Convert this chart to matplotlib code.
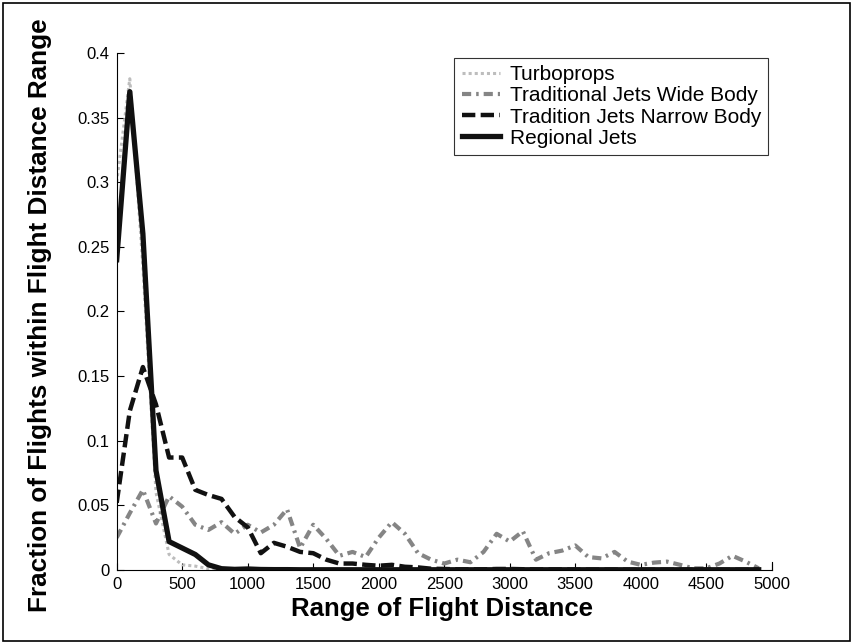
import numpy as np
import matplotlib
matplotlib.use('Agg')
import matplotlib.pyplot as plt
from matplotlib.patches import Rectangle

# flight distance bins (miles), one every 100
distance = np.arange(0, 5000, 100)

turboprops = [0.30, 0.38, 0.235, 0.06, 0.012, 0.004, 0.003, 0.001, 0.0003, 0.0002,
              0.0002, 0.0001, 0.0001, 0.0001, 0.0001, 0, 0, 0, 0, 0,
              0, 0, 0, 0, 0, 0, 0, 0, 0, 0,
              0, 0, 0, 0, 0, 0, 0, 0, 0, 0,
              0, 0, 0, 0, 0, 0, 0, 0, 0, 0]

wide_body = [0.025, 0.044, 0.062, 0.036, 0.057, 0.049, 0.035, 0.031, 0.037, 0.028,
             0.035, 0.029, 0.035, 0.047, 0.017, 0.035, 0.024, 0.011, 0.014, 0.010,
             0.025, 0.037, 0.028, 0.013, 0.008, 0.005, 0.008, 0.006, 0.014, 0.028,
             0.022, 0.030, 0.008, 0.013, 0.015, 0.019, 0.010, 0.009, 0.014, 0.0065,
             0.004, 0.0057, 0.0065, 0.004, 0.0013, 0.0013, 0.005, 0.011, 0.0065, 0.0013]

narrow_body = [0.052, 0.123, 0.157, 0.128, 0.087, 0.087, 0.062, 0.058, 0.055, 0.041,
               0.033, 0.013, 0.021, 0.018, 0.014, 0.013, 0.008, 0.005, 0.005, 0.004,
               0.0033, 0.004, 0.0025, 0.002, 0.001, 0.0008, 0.0005, 0.0005, 0.0005, 0.0008,
               0.0008, 0.0006, 0.0004, 0.0004, 0.0004, 0.0003, 0.0003, 0.0003, 0.0003, 0.0002,
               0.0002, 0.0002, 0.0002, 0.0002, 0.0002, 0.0002, 0.0002, 0.0002, 0.0002, 0.0002]

regional = [0.24, 0.37, 0.26, 0.077, 0.022, 0.017, 0.012, 0.004, 0.001, 0.0005,
            0.0008, 0.0004, 0.0003, 0.0003, 0.0002, 0.0002, 0.0002, 0.0002, 0.0002, 0.0002,
            0.0002, 0.0002, 0.0002, 0.0002, 0.0002, 0.0002, 0.0002, 0.0002, 0.0002, 0.0002,
            0.0002, 0.0002, 0.0002, 0.0002, 0.0002, 0.0002, 0.0002, 0.0002, 0.0002, 0.0002,
            0.0002, 0.0002, 0.0002, 0.0002, 0.0002, 0.0002, 0.0002, 0.0002, 0.0002, 0.0002]

series_names = ['Turboprops', 'Traditional Jets Wide Body',
                'Tradition Jets Narrow Body', 'Regional Jets']

x_ticks = np.arange(0, 5001, 500)
y_ticks = np.arange(0, 0.401, 0.05)
y_tick_labels = ['0', '0.05', '0.1', '0.15', '0.2', '0.25', '0.3', '0.35', '0.4']

font = ['Liberation Sans', 'DejaVu Sans']

fig = plt.figure(figsize=(8.53, 6.44), dpi=100)
ax = fig.add_axes([0.1368, 0.1149, 0.768, 0.803])

ax.plot(distance, turboprops, color='#bdbdbd', lw=2.2, linestyle=(0, (1, 1)), label=series_names[0])
ax.plot(distance, wide_body, color='#858585', lw=3, linestyle=(0, (2.2, 1.2, 0.6, 1.2)), label=series_names[1])
ax.plot(distance, narrow_body, color='#111111', lw=3.2, linestyle=(0, (3, 1.2)), label=series_names[2])
ax.plot(distance, regional, color='#111111', lw=3.8, linestyle='-', label=series_names[3])

ax.set_xlim(0, 5000)
ax.set_ylim(0, 0.4)
ax.set_xticks(x_ticks)
ax.set_xticklabels([str(t) for t in x_ticks], family=font, fontsize=12)
ax.set_yticks(y_ticks)
ax.set_yticklabels(y_tick_labels, family=font, fontsize=12)
ax.tick_params(direction='in', length=5, width=0.8, pad=5)

ax.spines['top'].set_visible(False)
ax.spines['right'].set_visible(False)
ax.spines['left'].set_linewidth(0.8)
ax.spines['bottom'].set_linewidth(0.8)
# small closing tick at the right end of the x axis
ax.plot([5000, 5000], [0, 0.006], color='black', lw=0.8, clip_on=False)

ax.set_xlabel('Range of Flight Distance', family=font, fontweight='bold', fontsize=18.5)
ax.xaxis.set_label_coords(0.497, -0.052)
ax.set_ylabel('Fraction of Flights within Flight Distance Range', family=font,
              fontweight='bold', fontsize=18.8)
ax.yaxis.set_label_coords(-0.099, 0.493)

leg = ax.legend(loc='upper right', bbox_to_anchor=(0.9945, 0.99), prop={'family': font, 'size': 15},
                frameon=True, fancybox=False, edgecolor='black', handlelength=1.85,
                handletextpad=0.45, borderpad=0.35, labelspacing=0.1, borderaxespad=0)
leg.get_frame().set_linewidth(0.8)

# thin frame around the whole figure
fig.patches.append(Rectangle((0.003, 0.004), 0.994, 0.991, transform=fig.transFigure,
                             fill=False, edgecolor='black', lw=1.2))

fig.savefig('out.png', dpi=100)
